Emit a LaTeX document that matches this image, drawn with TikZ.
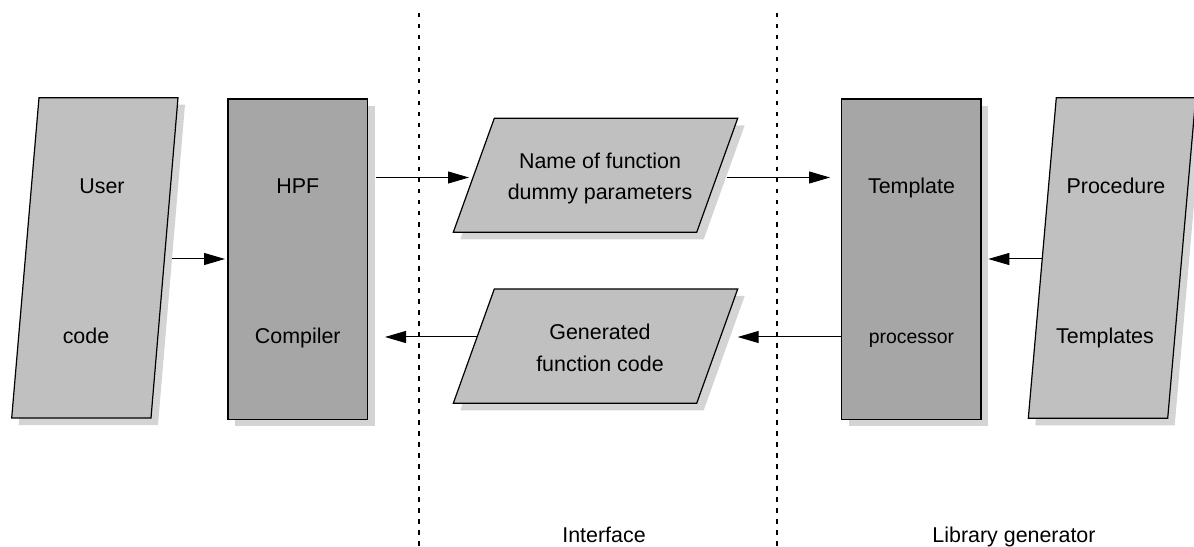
\documentclass[tikz,border=0pt]{standalone}
\usepackage{fontspec}
\setmainfont{Liberation Sans}
\usetikzlibrary{arrows.meta}
\definecolor{parafill}{HTML}{C0C0C0}
\definecolor{boxfill}{HTML}{A6A6A6}
\definecolor{shadowc}{HTML}{D4D4D4}
\begin{document}
\begin{tikzpicture}[x=1bp,y=-1bp,
  outline/.style={draw=black,line width=1.2bp},
  shade/.style={fill=shadowc},
  lbl/.style={font=\fontsize{21.5}{25}\selectfont,anchor=base,inner sep=0pt},
  lblsmall/.style={font=\fontsize{19.5}{23}\selectfont,anchor=base,inner sep=0pt},
  conn/.style={line width=1bp,-{Triangle[length=21bp,width=12bp]}},
  divider/.style={line width=2.3bp,dash pattern=on 4.5bp off 6.5bp}]
\useasboundingbox (0,0) rectangle (1194,547);
% dividers
\draw[divider] (419.3,13) -- (419.3,547);
\draw[divider] (776.7,13) -- (776.7,547);
% User code
\fill[shade] ([shift={(7,7)}]39,97.7) -- ([shift={(7,7)}]178,97.7) -- ([shift={(7,7)}]151,418) -- ([shift={(7,7)}]11.7,418) -- cycle;
\filldraw[outline,fill=parafill] (39,97.7) -- (178,97.7) -- (151,418) -- (11.7,418) -- cycle;
\node[lbl] (user1) at (102,193.5) {User};
\node[lbl] (user2) at (86,343.5) {code};
% HPF compiler
\fill[shade] (235,106) rectangle (374.7,426.3);
\filldraw[outline,fill=boxfill] (228,99) rectangle (367.7,419.3);
\node[lbl] (hpf1) at (297.8,193.5) {HPF};
\node[lbl] (hpf2) at (297.8,343.5) {Compiler};
% Name of function
\fill[shade] ([shift={(7,7)}]494.3,118.3) -- ([shift={(7,7)}]737.7,118.3) -- ([shift={(7,7)}]696.7,232.3) -- ([shift={(7,7)}]453.3,232.3) -- cycle;
\filldraw[outline,fill=parafill] (494.3,118.3) -- (737.7,118.3) -- (696.7,232.3) -- (453.3,232.3) -- cycle;
\node[lbl] (name1) at (600,169) {Name of function};
\node[lbl] (name2) at (600,200) {dummy parameters};
% Generated function code
\fill[shade] ([shift={(7,7)}]494.3,289) -- ([shift={(7,7)}]737.7,289) -- ([shift={(7,7)}]696.7,403.3) -- ([shift={(7,7)}]453.3,403.3) -- cycle;
\filldraw[outline,fill=parafill] (494.3,289) -- (737.7,289) -- (696.7,403.3) -- (453.3,403.3) -- cycle;
\node[lbl] (gen1) at (600,340) {Generated};
\node[lbl] (gen2) at (600,371.7) {function code};
% Template processor
\fill[shade] (848.7,106) rectangle (988,426.3);
\filldraw[outline,fill=boxfill] (841.7,99) rectangle (981,419.3);
\node[lbl] (tp1) at (911.5,193.5) {Template};
\node[lblsmall] (tp2) at (911.5,343.5) {processor};
% Procedure templates
\fill[shade] ([shift={(7,7)}]1056.3,97.7) -- ([shift={(7,7)}]1195.7,97.7) -- ([shift={(7,7)}]1167.7,418.3) -- ([shift={(7,7)}]1028.3,418.3) -- cycle;
\filldraw[outline,fill=parafill] (1056.3,97.7) -- (1195.7,97.7) -- (1167.7,418.3) -- (1028.3,418.3) -- cycle;
\node[lbl] (proc1) at (1116,193.5) {Procedure};
\node[lbl] (proc2) at (1105,343.5) {Templates};
% region labels
\node[lbl] (iface) at (604,542) {Interface};
\node[lbl] (libgen) at (1014,542) {Library generator};
% connector end points
\coordinate (userout) at (171.7,259);
\coordinate (hpfin) at (225,259);
\coordinate (hpfout) at (375.7,177.5);
\coordinate (namein) at (469,177.5);
\coordinate (nameout) at (726.7,177.5);
\coordinate (tpin) at (830,177.5);
\coordinate (procout) at (1041.7,259);
\coordinate (tpin2) at (988.3,259);
\coordinate (tpout) at (841.7,337);
\coordinate (genin) at (737.7,337);
\coordinate (genout) at (476.7,337);
\coordinate (hpfin2) at (385,337);
\draw[conn] (userout) -- (hpfin);
\draw[conn] (hpfout) -- (namein);
\draw[conn] (nameout) -- (tpin);
\draw[conn] (procout) -- (tpin2);
\draw[conn] (tpout) -- (genin);
\draw[conn] (genout) -- (hpfin2);
\end{tikzpicture}
\end{document}
